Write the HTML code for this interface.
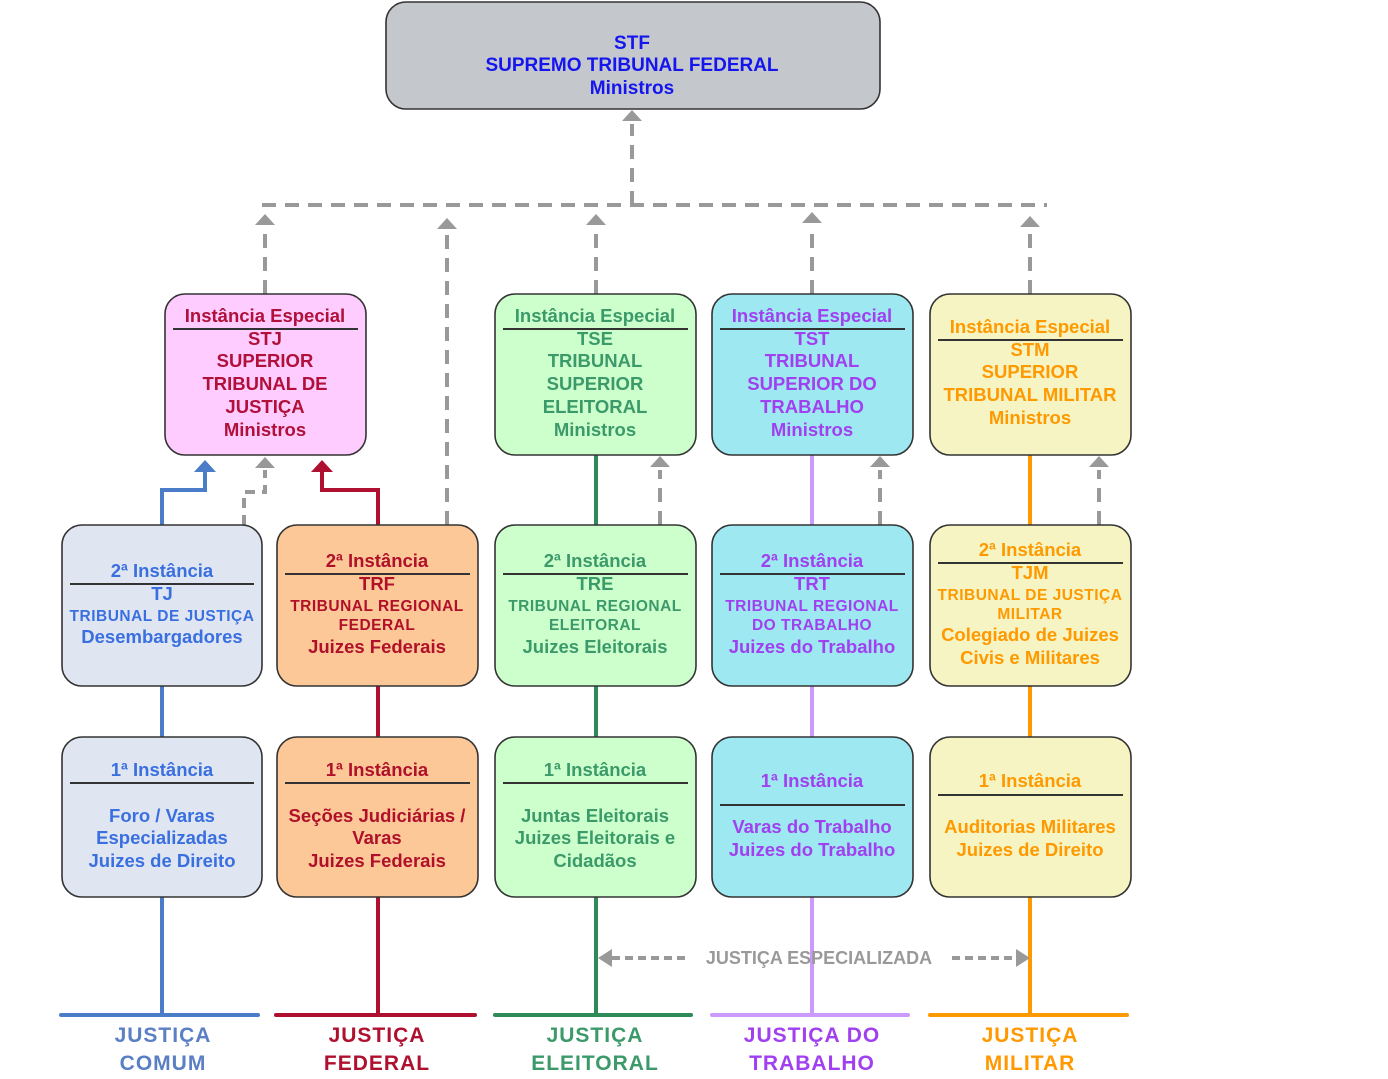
<!DOCTYPE html>
<html><head><meta charset="utf-8"><style>
html,body{margin:0;padding:0;background:#fff;}
svg{display:block;}
text{font-family:"Liberation Sans",Arial,sans-serif;font-weight:bold;text-anchor:middle;}
.b{font-size:18.5px;}
.s{font-size:15.5px;letter-spacing:0.5px;}
.l{font-size:21px;letter-spacing:1px;}
.d{stroke:#999;stroke-width:4;fill:none;stroke-dasharray:14 9;}
.bx{stroke:#333;stroke-width:1.6;}
</style></head><body>
<svg width="1388" height="1079" viewBox="0 0 1388 1079" xmlns="http://www.w3.org/2000/svg">
<rect class="bx" x="386" y="2" width="494" height="107" rx="20" fill="#c4c8cd"/>
<g fill="#1515ee" style="font-size:19px">
<text x="632" y="49">STF</text>
<text x="632" y="71">SUPREMO TRIBUNAL FEDERAL</text>
<text x="632" y="94">Ministros</text>
</g>

<path class="d" d="M262 205 H1047"/>
<path class="d" d="M632 205 V124"/>
<polygon points="622,121 642,121 632,110" fill="#999"/>
<g>
<path class="d" d="M265 294 V228"/><polygon points="255,225 275,225 265,214" fill="#999"/>
<path class="d" d="M447 525 V232"/><polygon points="437,229 457,229 447,218" fill="#999"/>
<path class="d" d="M596 294 V228"/><polygon points="586,225 606,225 596,214" fill="#999"/>
<path class="d" d="M812 294 V226"/><polygon points="802,223 822,223 812,212" fill="#999"/>
<path class="d" d="M1030 294 V230"/><polygon points="1020,227 1040,227 1030,216" fill="#999"/>
</g>

<path d="M162 525 V490 H205 V470" stroke="#4a7cc7" stroke-width="4" fill="none"/>
<polygon points="194,472 216,472 205,460" fill="#4a7cc7"/>
<path class="d" d="M244 525 V492 H265 V470" style="stroke-dasharray:10 7"/>
<polygon points="255,468 275,468 265,457" fill="#999"/>
<path d="M378 525 V490 H322 V470" stroke="#b01030" stroke-width="4" fill="none"/>
<polygon points="311,472 333,472 322,460" fill="#b01030"/>

<path d="M596 455 V525 M596 686 V737 M596 897 V1015" stroke="#2e8b57" stroke-width="4"/>
<path class="d" d="M660 525 V470"/><polygon points="650,467 670,467 660,456" fill="#999"/>
<path d="M812 455 V525 M812 686 V737 M812 897 V1015" stroke="#cc99ff" stroke-width="4"/>
<path class="d" d="M880 525 V470"/><polygon points="870,467 890,467 880,456" fill="#999"/>
<path d="M1030 455 V525 M1030 686 V737 M1030 897 V1015" stroke="#ff9900" stroke-width="4"/>
<path class="d" d="M1099 525 V470"/><polygon points="1089,467 1109,467 1099,456" fill="#999"/>

<path d="M162 686 V737 M162 897 V1015" stroke="#4a7cc7" stroke-width="4"/>
<path d="M378 686 V737 M378 897 V1015" stroke="#b01030" stroke-width="4"/>

<g stroke-width="4" stroke-linecap="round">
<line x1="61" y1="1015" x2="258" y2="1015" stroke="#4a7cc7"/>
<line x1="276" y1="1015" x2="475" y2="1015" stroke="#b01030"/>
<line x1="495" y1="1015" x2="691" y2="1015" stroke="#2e8b57"/>
<line x1="712" y1="1015" x2="908" y2="1015" stroke="#cc99ff"/>
<line x1="930" y1="1015" x2="1127" y2="1015" stroke="#ff9900"/>
</g>
<g>
<text x="163" y="1042" fill="#5a7fc4" class="l">JUSTIÇA</text>
<text x="163" y="1070" fill="#5a7fc4" class="l">COMUM</text>
<text x="377" y="1042" fill="#b01030" class="l">JUSTIÇA</text>
<text x="377" y="1070" fill="#b01030" class="l">FEDERAL</text>
<text x="595" y="1042" fill="#3c9a6a" class="l">JUSTIÇA</text>
<text x="595" y="1070" fill="#3c9a6a" class="l">ELEITORAL</text>
<text x="812" y="1042" fill="#a040f0" class="l">JUSTIÇA DO</text>
<text x="812" y="1070" fill="#a040f0" class="l">TRABALHO</text>
<text x="1030" y="1042" fill="#ff9900" class="l">JUSTIÇA</text>
<text x="1030" y="1070" fill="#ff9900" class="l">MILITAR</text>
</g>

<path d="M612 958 H690 M952 958 H1016" stroke="#999" stroke-width="4" stroke-dasharray="8 5"/>
<polygon points="598,958 612,949 612,967" fill="#999"/>
<polygon points="1030,958 1016,949 1016,967" fill="#999"/>
<text x="819" y="964" fill="#999" style="font-size:18px">JUSTIÇA ESPECIALIZADA</text>

<rect class="bx" x="165" y="294" width="201" height="161" rx="20" fill="#ffccff"/>
<line x1="173" y1="329" x2="358" y2="329" stroke="#333" stroke-width="2"/>
<g fill="#b0103a" class="b">
<text x="265" y="322">Instância Especial</text>
<text x="265" y="345">STJ</text>
<text x="265" y="367">SUPERIOR</text>
<text x="265" y="390">TRIBUNAL DE</text>
<text x="265" y="413">JUSTIÇA</text>
<text x="265" y="436">Ministros</text>
</g>

<rect class="bx" x="495" y="294" width="201" height="161" rx="20" fill="#ccffcc"/>
<line x1="503" y1="329" x2="688" y2="329" stroke="#333" stroke-width="2"/>
<g fill="#3c9a6a" class="b">
<text x="595" y="322">Instância Especial</text>
<text x="595" y="345">TSE</text>
<text x="595" y="367">TRIBUNAL</text>
<text x="595" y="390">SUPERIOR</text>
<text x="595" y="413">ELEITORAL</text>
<text x="595" y="436">Ministros</text>
</g>

<rect class="bx" x="712" y="294" width="201" height="161" rx="20" fill="#9ee8f2"/>
<line x1="720" y1="329" x2="905" y2="329" stroke="#333" stroke-width="2"/>
<g fill="#a040f0" class="b">
<text x="812" y="322">Instância Especial</text>
<text x="812" y="345">TST</text>
<text x="812" y="367">TRIBUNAL</text>
<text x="812" y="390">SUPERIOR DO</text>
<text x="812" y="413">TRABALHO</text>
<text x="812" y="436">Ministros</text>
</g>

<rect class="bx" x="930" y="294" width="201" height="161" rx="20" fill="#f5f4c2"/>
<line x1="938" y1="340" x2="1123" y2="340" stroke="#333" stroke-width="2"/>
<g fill="#ff9900" class="b">
<text x="1030" y="333">Instância Especial</text>
<text x="1030" y="356">STM</text>
<text x="1030" y="378">SUPERIOR</text>
<text x="1030" y="401">TRIBUNAL MILITAR</text>
<text x="1030" y="424">Ministros</text>
</g>

<rect class="bx" x="62" y="525" width="200" height="161" rx="20" fill="#dfe6f2"/>
<line x1="70" y1="584" x2="254" y2="584" stroke="#333" stroke-width="2"/>
<g fill="#3a6fe0">
<text x="162" y="577" class="b">2ª Instância</text>
<text x="162" y="600" class="b">TJ</text>
<text x="162" y="621" class="s">TRIBUNAL DE JUSTIÇA</text>
<text x="162" y="643" class="b">Desembargadores</text>
</g>

<rect class="bx" x="277" y="525" width="201" height="161" rx="20" fill="#fcc897"/>
<line x1="285" y1="574" x2="470" y2="574" stroke="#333" stroke-width="2"/>
<g fill="#b0102a">
<text x="377" y="567" class="b">2ª Instância</text>
<text x="377" y="590" class="b">TRF</text>
<text x="377" y="611" class="s">TRIBUNAL REGIONAL</text>
<text x="377" y="630" class="s">FEDERAL</text>
<text x="377" y="653" class="b">Juizes Federais</text>
</g>

<rect class="bx" x="495" y="525" width="201" height="161" rx="20" fill="#ccffcc"/>
<line x1="503" y1="574" x2="688" y2="574" stroke="#333" stroke-width="2"/>
<g fill="#3c9a6a">
<text x="595" y="567" class="b">2ª Instância</text>
<text x="595" y="590" class="b">TRE</text>
<text x="595" y="611" class="s">TRIBUNAL REGIONAL</text>
<text x="595" y="630" class="s">ELEITORAL</text>
<text x="595" y="653" class="b">Juizes Eleitorais</text>
</g>

<rect class="bx" x="712" y="525" width="201" height="161" rx="20" fill="#9ee8f2"/>
<line x1="720" y1="574" x2="905" y2="574" stroke="#333" stroke-width="2"/>
<g fill="#a040f0">
<text x="812" y="567" class="b">2ª Instância</text>
<text x="812" y="590" class="b">TRT</text>
<text x="812" y="611" class="s">TRIBUNAL REGIONAL</text>
<text x="812" y="630" class="s">DO TRABALHO</text>
<text x="812" y="653" class="b">Juizes do Trabalho</text>
</g>

<rect class="bx" x="930" y="525" width="201" height="161" rx="20" fill="#f5f4c2"/>
<line x1="938" y1="563" x2="1123" y2="563" stroke="#333" stroke-width="2"/>
<g fill="#ff9900">
<text x="1030" y="556" class="b">2ª Instância</text>
<text x="1030" y="579" class="b">TJM</text>
<text x="1030" y="600" class="s">TRIBUNAL DE JUSTIÇA</text>
<text x="1030" y="619" class="s">MILITAR</text>
<text x="1030" y="641" class="b">Colegiado de Juizes</text>
<text x="1030" y="664" class="b">Civis e Militares</text>
</g>

<rect class="bx" x="62" y="737" width="200" height="160" rx="20" fill="#dfe6f2"/>
<line x1="70" y1="783" x2="254" y2="783" stroke="#333" stroke-width="2"/>
<g fill="#3a6fe0" class="b">
<text x="162" y="776">1ª Instância</text>
<text x="162" y="822">Foro / Varas</text>
<text x="162" y="844">Especializadas</text>
<text x="162" y="867">Juizes de Direito</text>
</g>

<rect class="bx" x="277" y="737" width="201" height="160" rx="20" fill="#fcc897"/>
<line x1="285" y1="783" x2="470" y2="783" stroke="#333" stroke-width="2"/>
<g fill="#b0102a" class="b">
<text x="377" y="776">1ª Instância</text>
<text x="377" y="822">Seções Judiciárias /</text>
<text x="377" y="844">Varas</text>
<text x="377" y="867">Juizes Federais</text>
</g>

<rect class="bx" x="495" y="737" width="201" height="160" rx="20" fill="#ccffcc"/>
<line x1="503" y1="783" x2="688" y2="783" stroke="#333" stroke-width="2"/>
<g fill="#3c9a6a" class="b">
<text x="595" y="776">1ª Instância</text>
<text x="595" y="822">Juntas Eleitorais</text>
<text x="595" y="844">Juizes Eleitorais e</text>
<text x="595" y="867">Cidadãos</text>
</g>

<rect class="bx" x="712" y="737" width="201" height="160" rx="20" fill="#9ee8f2"/>
<line x1="720" y1="805" x2="905" y2="805" stroke="#333" stroke-width="2"/>
<g fill="#a040f0" class="b">
<text x="812" y="787">1ª Instância</text>
<text x="812" y="833">Varas do Trabalho</text>
<text x="812" y="856">Juizes do Trabalho</text>
</g>

<rect class="bx" x="930" y="737" width="201" height="160" rx="20" fill="#f5f4c2"/>
<line x1="938" y1="795" x2="1123" y2="795" stroke="#333" stroke-width="2"/>
<g fill="#ff9900" class="b">
<text x="1030" y="787">1ª Instância</text>
<text x="1030" y="833">Auditorias Militares</text>
<text x="1030" y="856">Juizes de Direito</text>
</g>
</svg>
</body></html>
